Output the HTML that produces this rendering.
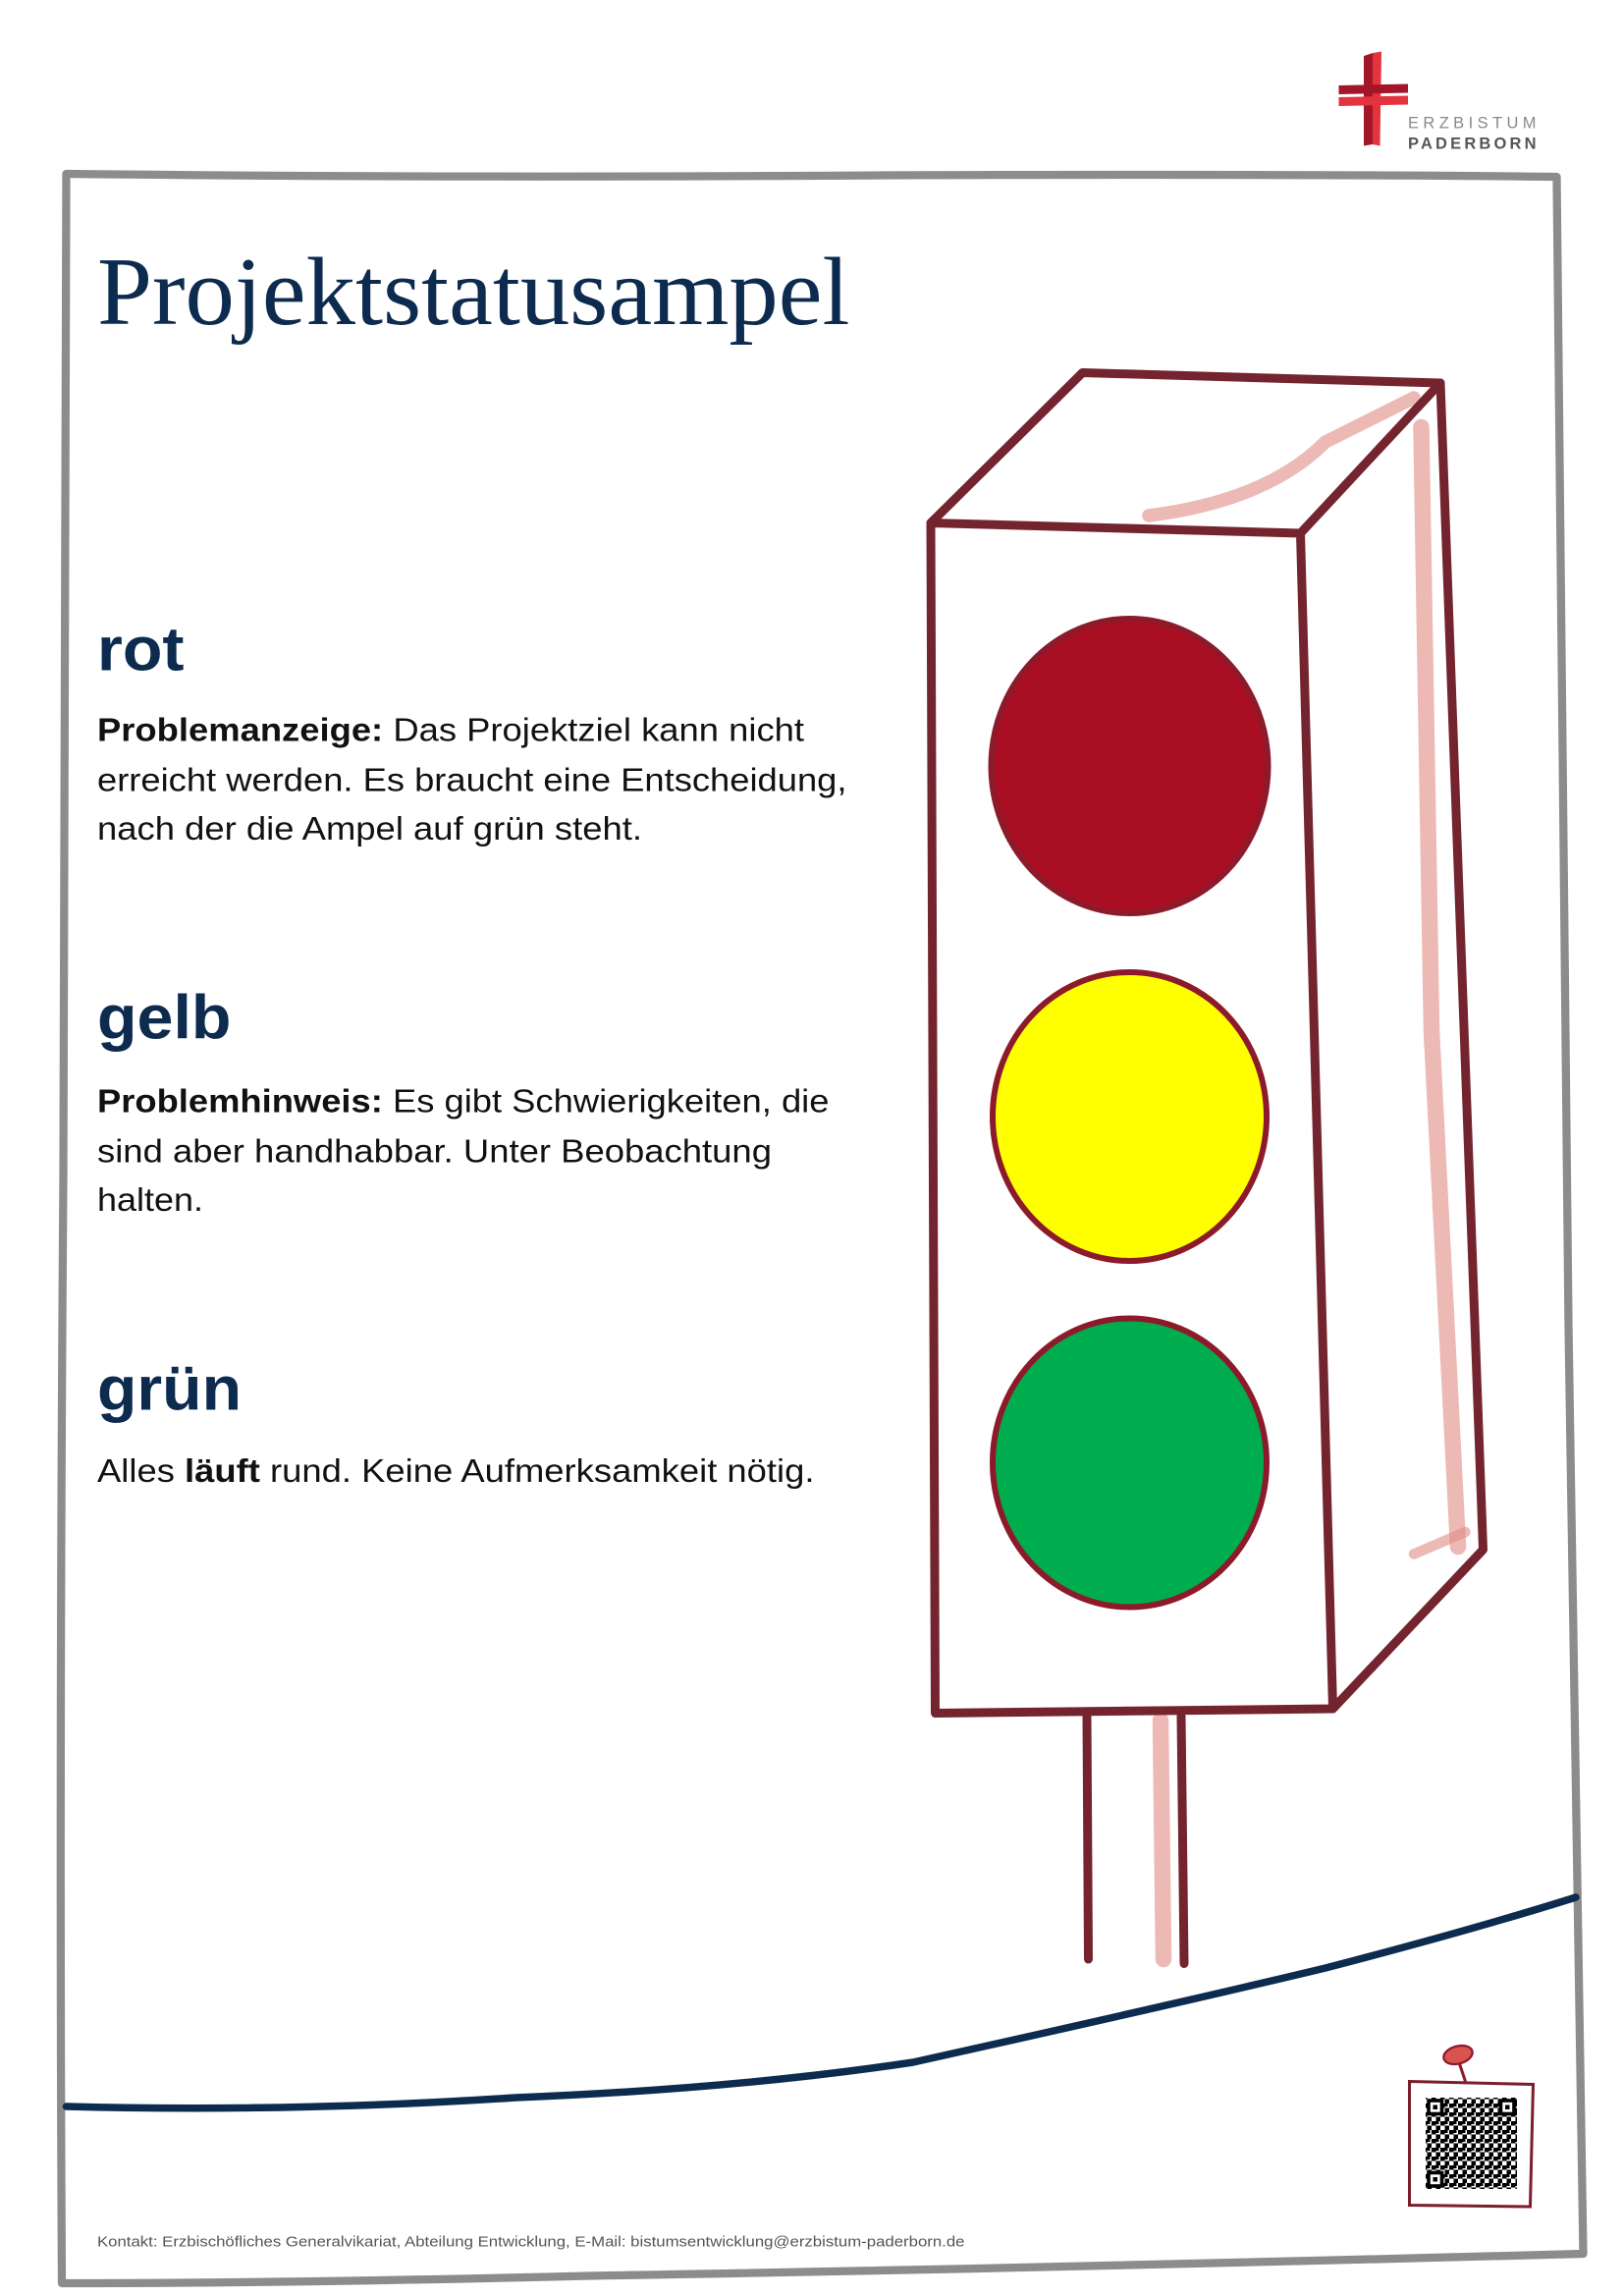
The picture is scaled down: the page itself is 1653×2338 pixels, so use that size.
<!DOCTYPE html>
<html><head><meta charset="utf-8"><style>
html,body{margin:0;padding:0;background:#fff}
svg{display:block}
</style></head><body>
<svg width="1653" height="2338" viewBox="0 0 1102 1558.67" xmlns="http://www.w3.org/2000/svg">
<defs>
<pattern id="qr" width="6" height="6" patternUnits="userSpaceOnUse">
<rect width="6" height="6" fill="#fff"/>
<rect x="0" y="0" width="3" height="3" fill="#000"/>
<rect x="3" y="3" width="3" height="3" fill="#000"/>
<rect x="3" y="0" width="2" height="2" fill="#000"/>
</pattern>
</defs>
<g>
<path d="M926 38 L932 36 L932 98 L926 99 Z" fill="#a3162a"/>
<path d="M932 36 L938 35 L937 99 L932 98 Z" fill="#e2333f"/>
<path d="M909 58 L956 57 L956 63 L909 64 Z" fill="#a3162a"/>
<path d="M909 66 L956 65 L956 71 L909 72 Z" fill="#e2333f"/>
<text x="956" y="87" font-family="Liberation Sans, sans-serif" font-size="11" fill="#888" textLength="87" lengthAdjust="spacing">ERZBISTUM</text>
<text x="956" y="101" font-family="Liberation Sans, sans-serif" font-size="11" font-weight="bold" fill="#555" textLength="87" lengthAdjust="spacing">PADERBORN</text>
</g>
<path d="M45 118 Q300 121 600 119 Q900 118 1057 120 Q1060 500 1065 900 Q1070 1250 1075 1530 Q700 1540 400 1545 Q200 1550 42 1550 Q40 1200 43 800 Q44 400 45 118 Z" fill="none" stroke="#8c8c8c" stroke-width="5.5" stroke-linejoin="round"/>
<text x="66" y="220" font-family="Liberation Serif, serif" font-size="66" fill="#0d2b4e" textLength="511" lengthAdjust="spacingAndGlyphs">Projektstatusampel</text>
<g font-family="Liberation Sans, sans-serif" fill="#0d2b4e" font-weight="bold" font-size="42">
<text x="66" y="455" textLength="59" lengthAdjust="spacingAndGlyphs">rot</text>
<text x="66" y="705" textLength="91" lengthAdjust="spacingAndGlyphs">gelb</text>
<text x="66" y="957" textLength="98" lengthAdjust="spacingAndGlyphs">grün</text>
</g>
<g font-family="Liberation Sans, sans-serif" fill="#111" font-size="22.5">
<text x="66" y="503" textLength="480" lengthAdjust="spacingAndGlyphs"><tspan font-weight="bold">Problemanzeige:</tspan> Das Projektziel kann nicht</text>
<text x="66" y="537" textLength="509" lengthAdjust="spacingAndGlyphs">erreicht werden. Es braucht eine Entscheidung,</text>
<text x="66" y="570" textLength="370" lengthAdjust="spacingAndGlyphs">nach der die Ampel auf grün steht.</text>
<text x="66" y="755" textLength="497" lengthAdjust="spacingAndGlyphs"><tspan font-weight="bold">Problemhinweis:</tspan> Es gibt Schwierigkeiten, die</text>
<text x="66" y="789" textLength="458" lengthAdjust="spacingAndGlyphs">sind aber handhabbar. Unter Beobachtung</text>
<text x="66" y="822" textLength="72" lengthAdjust="spacingAndGlyphs">halten.</text>
<text x="66" y="1006" textLength="487" lengthAdjust="spacingAndGlyphs">Alles <tspan font-weight="bold">läuft</tspan> rund. Keine Aufmerksamkeit nötig.</text>
</g>
<g stroke="#e08a84" stroke-opacity="0.6" fill="none" stroke-linecap="round">
<path d="M965 290 L972 700 L990 1050" stroke-width="11"/>
<path d="M780 350 Q860 340 900 300 L960 270" stroke-width="9"/>
<path d="M960 1055 L995 1040" stroke-width="7"/>
<path d="M788 1168 L790 1330" stroke-width="11"/>
</g>
<g stroke="#74242f" stroke-width="6" fill="none" stroke-linejoin="round" stroke-linecap="round">
<path d="M632 355 L883 362 L905 1160 L635 1163 Z"/>
<path d="M632 355 L735 253 L978 260 L883 362"/>
<path d="M978 260 L1007 1052 L905 1160"/>
<path d="M738 1165 L739 1330"/>
<path d="M802 1165 L804 1333"/>
</g>
<ellipse cx="767" cy="520" rx="94" ry="100" fill="#aa0e22" stroke="#8c1a2a" stroke-width="4"/>
<ellipse cx="767" cy="758" rx="93" ry="98" fill="#ffff00" stroke="#8c1a2a" stroke-width="4"/>
<ellipse cx="767" cy="993" rx="93" ry="98" fill="#00ad4e" stroke="#8c1a2a" stroke-width="4"/>
<path d="M45 1430 Q200 1434 350 1424 Q500 1418 620 1400 Q800 1360 900 1336 Q1000 1310 1070 1288" fill="none" stroke="#0d2b4e" stroke-width="5" stroke-linecap="round"/>
<line x1="990" y1="1398" x2="995" y2="1413" stroke="#8c1a2a" stroke-width="2"/>
<ellipse cx="990" cy="1395" rx="10" ry="6" fill="#d9534f" stroke="#8c1a2a" stroke-width="1.5" transform="rotate(-15 990 1395)"/>
<path d="M957 1413 L1041 1415 L1039 1498 L957 1497 Z" fill="#fff" stroke="#7a1e2a" stroke-width="2"/>
<rect x="968" y="1424" width="62" height="62" fill="url(#qr)"/>
<g fill="none" stroke="#000" stroke-width="2.4">
<rect x="970" y="1426" width="9" height="9" fill="#fff"/>
<rect x="1019" y="1426" width="9" height="9" fill="#fff"/>
<rect x="970" y="1475" width="9" height="9" fill="#fff"/>
</g>
<rect x="973" y="1429" width="3" height="3"/><rect x="1022" y="1429" width="3" height="3"/><rect x="973" y="1478" width="3" height="3"/>
<text x="66" y="1525" font-family="Liberation Sans, sans-serif" font-size="9.7" fill="#555" textLength="589" lengthAdjust="spacingAndGlyphs">Kontakt: Erzbischöfliches Generalvikariat, Abteilung Entwicklung, E-Mail: bistumsentwicklung@erzbistum-paderborn.de</text>
</svg>
</body></html>
